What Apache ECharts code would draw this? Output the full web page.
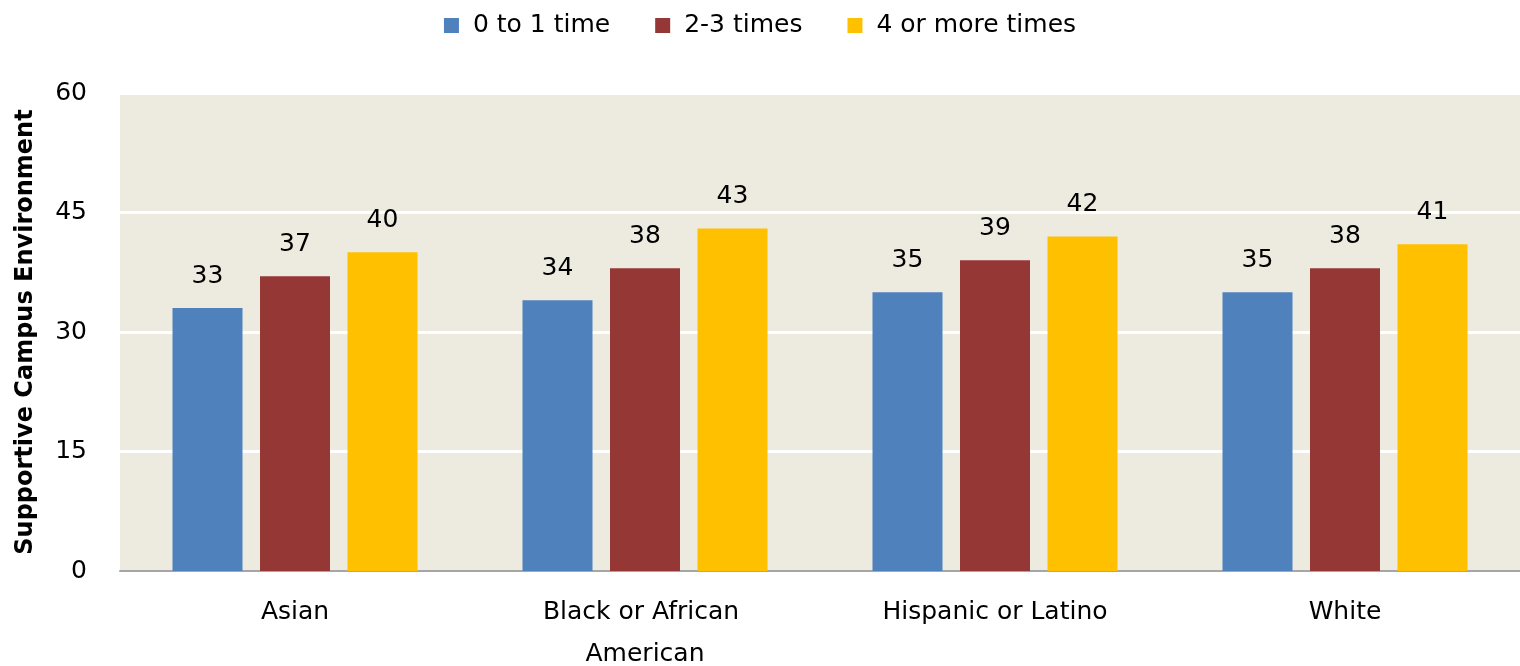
<!DOCTYPE html>
<html><head><meta charset="utf-8">
<script src="https://cdn.jsdelivr.net/npm/echarts@6/dist/echarts.min.js"></script>
<style>html,body{margin:0;padding:0;background:#fff}#c{width:1520px;height:666px}</style>
</head><body><div id="c"></div>
<script>
const categories = ["Asian", "Black or African American", "Hispanic or Latino", "White"];
const seriesNames = ["0 to 1 time", "2-3 times", "4 or more times"];
const s1 = [33, 34, 35, 35];
const s2 = [37, 38, 39, 38];
const s3 = [40, 43, 42, 41];
const yTicks = [0, 15, 30, 45, 60];
const colors = ["#4F81BD", "#953735", "#FFC000"];
const FONT = "DejaVu Sans";

const chart = echarts.init(document.getElementById('c'));
const mk = (name, data, color) => ({
  name, type: 'bar', data, barWidth: 70, barGap: '25%',
  itemStyle: { color },
  label: { show: true, position: 'top', distance: 19, color: '#000', fontSize: 25, fontFamily: FONT }
});
chart.setOption({
  animation: false,
  textStyle: { fontFamily: FONT },
  legend: {
    top: 8, left: 'center', itemWidth: 15, itemHeight: 15, itemGap: 45,
    icon: 'rect',
    textStyle: { fontSize: 25, color: '#000', fontFamily: FONT, padding: [0, 0, 0, 9] },
    data: seriesNames
  },
  grid: { left: 120, right: 0, top: 93, bottom: 95, show: true, backgroundColor: '#EDEAE0', borderWidth: 0, outerBoundsMode: 'none', containLabel: false },
  xAxis: {
    type: 'category', data: categories,
    axisLine: { lineStyle: { color: '#A6A6A6', width: 2 } },
    axisTick: { show: false },
    axisLabel: { interval: 0, fontSize: 25, color: '#000', margin: 20, width: 260, overflow: 'break', lineHeight: 42, fontFamily: FONT }
  },
  yAxis: {
    type: 'value', min: yTicks[0], max: yTicks[yTicks.length - 1], interval: 15,
    name: 'Supportive Campus Environment', nameLocation: 'middle', nameGap: 82, nameRotate: 90,
    nameTextStyle: { fontSize: 24, fontWeight: 'bold', color: '#000', fontFamily: FONT },
    axisLine: { show: false }, axisTick: { show: false },
    axisLabel: { fontSize: 25, color: '#000', margin: 33, fontFamily: FONT },
    splitLine: { lineStyle: { color: '#FFFFFF', width: 3 } }
  },
  series: [mk(seriesNames[0], s1, colors[0]), mk(seriesNames[1], s2, colors[1]), mk(seriesNames[2], s3, colors[2])]
});
</script></body></html>
